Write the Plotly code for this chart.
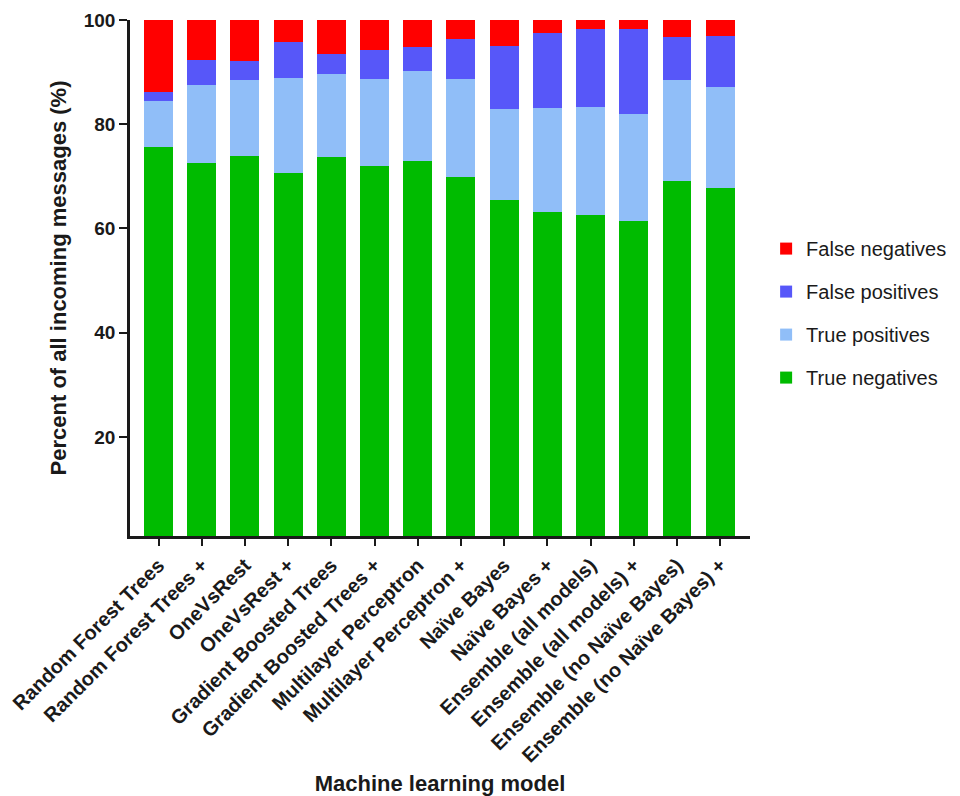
import plotly.graph_objects as go

models = [
    "Random Forest Trees", "Random Forest Trees +", "OneVsRest", "OneVsRest +",
    "Gradient Boosted Trees", "Gradient Boosted Trees +", "Multilayer Perceptron",
    "Multilayer Perceptron +", "Naïve Bayes", "Naïve Bayes +",
    "Ensemble (all models)", "Ensemble (all models) +",
    "Ensemble (no Naïve Bayes)", "Ensemble (no Naïve Bayes) +",
]
true_negatives = [75.7, 72.5, 73.9, 70.6, 73.7, 71.9, 72.9, 69.9, 65.5, 63.1, 62.6, 61.4, 69.2, 67.7]
true_positives = [8.7, 15.0, 14.6, 18.3, 16.0, 16.7, 17.4, 18.8, 17.4, 20.0, 20.7, 20.5, 19.3, 19.4]
false_positives = [1.8, 4.9, 3.6, 6.9, 3.8, 5.6, 4.5, 7.7, 12.1, 14.5, 14.9, 16.3, 8.3, 9.8]
false_negatives = [13.8, 7.6, 7.9, 4.2, 6.5, 5.8, 5.2, 3.6, 5.0, 2.4, 1.8, 1.8, 3.2, 3.1]

series = [
    ("True negatives", true_negatives, "#00BB00", 4),
    ("True positives", true_positives, "#90BEF8", 3),
    ("False positives", false_positives, "#5757F9", 2),
    ("False negatives", false_negatives, "#FF0000", 1),
]

FONT = "Arial, Liberation Sans, sans-serif"
fig = go.Figure()
for name, vals, col, rank in series:
    fig.add_trace(go.Bar(
        x=models, y=vals, name=name, legendgroup=name, legendrank=rank,
        marker=dict(color=col, line=dict(width=0)),
    ))

fig.update_layout(
    barmode="stack",
    bargap=0.33,
    width=952, height=788,
    margin=dict(l=122, r=210, t=12, b=260, autoexpand=False),
    plot_bgcolor="white", paper_bgcolor="white",
    font=dict(family=FONT, color="#1a1a1a"),
    showlegend=True,
    legend=dict(
        traceorder="grouped", tracegroupgap=14,
        x=1.026, xanchor="left", y=0.432, yanchor="middle",
        font=dict(size=20, family=FONT, color="#1a1a1a"),
        bgcolor="rgba(0,0,0,0)",
    ),
)
fig.update_xaxes(
    range=[-0.66, 13.69],
    showline=True, linecolor="#1a1a1a", linewidth=2.5,
    ticks="outside", ticklen=7, tickwidth=2, tickcolor="#1a1a1a",
    tickangle=-45,
    tickfont=dict(size=20, family=FONT, color="#1a1a1a", weight="bold"),
    title=dict(text="<b>Machine learning model</b>", font=dict(size=22, family=FONT), standoff=12),
    automargin=False,
)
fig.update_yaxes(
    range=[1, 100],
    tickvals=[20, 40, 60, 80, 100],
    showline=True, linecolor="#1a1a1a", linewidth=2.5,
    ticks="outside", ticklen=8, tickwidth=2, tickcolor="#1a1a1a",
    tickfont=dict(size=19, family=FONT, color="#1a1a1a", weight="bold"),
    showgrid=False, zeroline=False,
    title=dict(text="<b>Percent of all incoming messages (%)</b>", font=dict(size=22, family=FONT), standoff=12),
    automargin=False,
)
fig.write_html("out.html")
